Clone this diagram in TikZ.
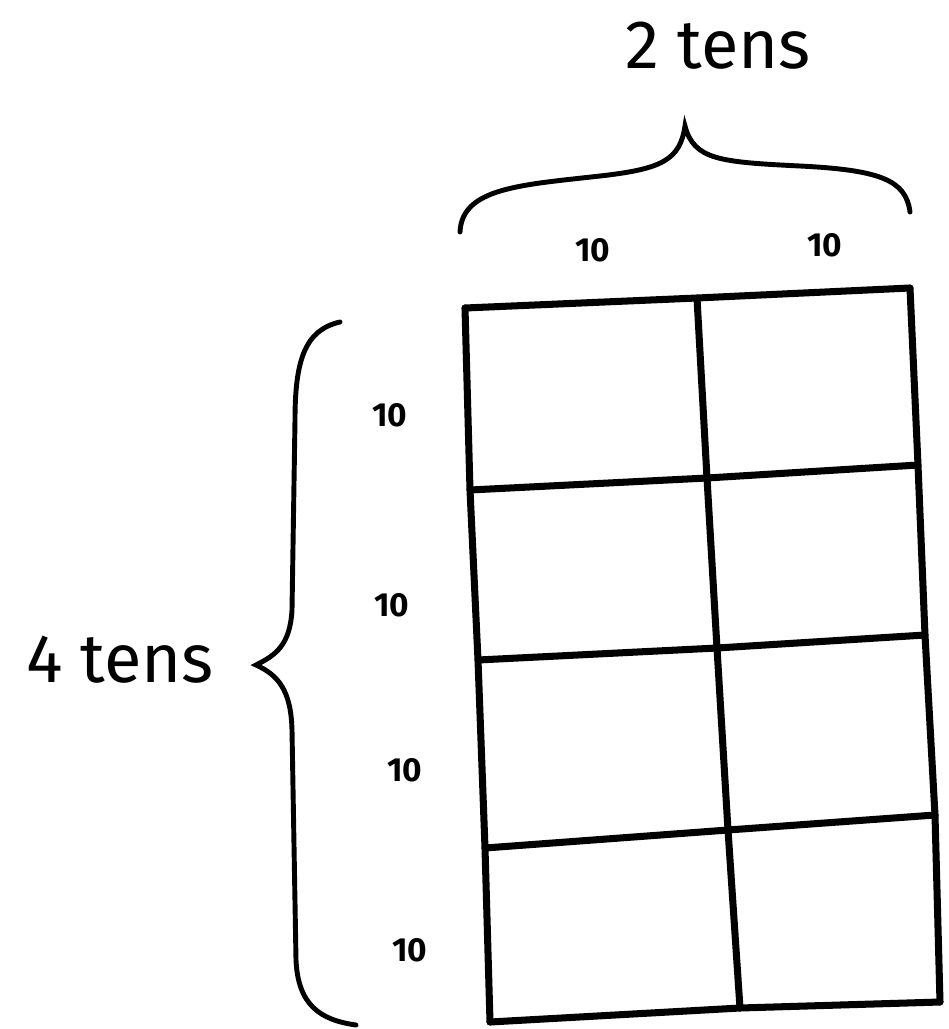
\documentclass[tikz,border=0pt]{standalone}
\usepackage{fontspec}
\setmainfont{Fira Sans}
\usetikzlibrary{positioning}

\begin{document}
\begin{tikzpicture}[
    x=0.02cm, y=-0.02cm,
    gridline/.style={line width=4pt, line cap=round, line join=round},
    bracket/.style={line width=2.8pt, line cap=round},
    small/.style={font=\fontsize{19}{19}\selectfont\bfseries},
    big/.style={font=\fontsize{39}{39}\selectfont}
]
    \useasboundingbox[fill=white] (0,0) rectangle (949,1029);
    % corners of the grid, row by row
    \coordinate (a0) at (465,308); \coordinate (b0) at (697,298); \coordinate (c0) at (910,288);
    \coordinate (a1) at (470,490); \coordinate (b1) at (707,478); \coordinate (c1) at (918,465);
    \coordinate (a2) at (478,660); \coordinate (b2) at (717,648); \coordinate (c2) at (925,635);
    \coordinate (a3) at (485,848); \coordinate (b3) at (728,830); \coordinate (c3) at (935,815);
    \coordinate (a4) at (490,1022); \coordinate (b4) at (740,1008); \coordinate (c4) at (940,1002);
    \foreach \r in {0,...,4}
        \draw[gridline] (a\r) -- (b\r) -- (c\r);
    \draw[gridline] (a0) -- (a1) -- (a2) -- (a3) -- (a4);
    \draw[gridline] (b0) -- (b1) -- (b2) -- (b3) -- (b4);
    \draw[gridline] (c0) -- (c1) -- (c2) -- (c3) -- (c4);

    % braces
    \draw[bracket] (460,232) .. controls (462,188) and (520,185) .. (600,176)
        .. controls (662,169) and (680,160) .. (685,126)
        .. controls (694,160) and (720,162) .. (800,166)
        .. controls (880,170) and (906,180) .. (910,212);
    \draw[bracket] (340,322) .. controls (305,330) and (295,360) .. (295,420)
        -- (292,610) .. controls (290,645) and (276,655) .. (256,665)
        .. controls (278,675) and (291,690) .. (292,730)
        -- (296,960) .. controls (298,1005) and (320,1020) .. (356,1025);

    % labels
    \node[big] (twotens) at (718,46) {2 tens};
    \node[big] (fourtens) at (120,660) {4 tens};
    \node[small] (top1) at (593,250) {10};
    \node[small] (top2) at (825,245) {10};
    \node[small] (left1) at (390,415) {10};
    \node[small] (left2) at (392,605) {10};
    \node[small] (left3) at (405,770) {10};
    \node[small] (left4) at (410,950) {10};
\end{tikzpicture}
\end{document}
